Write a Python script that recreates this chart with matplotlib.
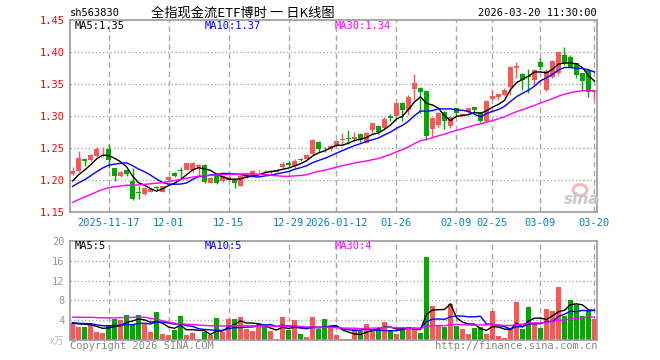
import matplotlib
matplotlib.use("Agg")
import matplotlib.pyplot as plt
from matplotlib.patches import Ellipse
import pandas as pd

# daily K data of sh563830 (first bar = 2025-11-07)
opens = [1.209, 1.214, 1.233, 1.231, 1.238, 1.243, 1.248, 1.218, 1.207, 1.215,
         1.199, 1.182, 1.178, 1.182, 1.189, 1.182, 1.200, 1.211, 1.215, 1.216,
         1.215, 1.221, 1.223, 1.196, 1.209, 1.199, 1.200, 1.200, 1.191, 1.204,
         1.207, 1.2135, 1.2145, 1.212, 1.213, 1.221, 1.226, 1.222, 1.2335, 1.233,
         1.2405, 1.260, 1.2475, 1.248, 1.253, 1.262, 1.266, 1.264, 1.272, 1.2583,
         1.278, 1.2844, 1.2807, 1.300, 1.300, 1.3208, 1.3094, 1.3422, 1.3443, 1.3391,
         1.2792, 1.2859, 1.3068, 1.2844, 1.312, 1.300, 1.3068, 1.3135, 1.3063, 1.2922,
         1.326, 1.3292, 1.3328, 1.3458, 1.3745, 1.3656, 1.3625, 1.3563, 1.3849, 1.3406,
         1.3604, 1.3667, 1.3953, 1.3927, 1.3823, 1.3667, 1.3719, 1.3375]
highs = [1.221, 1.245, 1.233, 1.241, 1.252, 1.252, 1.257, 1.218, 1.214, 1.216,
         1.219, 1.190, 1.189, 1.188, 1.191, 1.191, 1.206, 1.212, 1.221, 1.227,
         1.228, 1.225, 1.225, 1.204, 1.210, 1.207, 1.206, 1.201, 1.208, 1.211,
         1.215, 1.216, 1.216, 1.216, 1.217, 1.2276, 1.230, 1.233, 1.235, 1.240,
         1.2635, 1.261, 1.2516, 1.2547, 1.2625, 1.273, 1.278, 1.2755, 1.273, 1.2755,
         1.2896, 1.286, 1.298, 1.303, 1.3224, 1.3224, 1.3333, 1.3656, 1.345, 1.3406,
         1.299, 1.3068, 1.3078, 1.3005, 1.3125, 1.3042, 1.3125, 1.3141, 1.3068, 1.325,
         1.3406, 1.335, 1.3438, 1.378, 1.385, 1.3667, 1.3729, 1.3729, 1.3901, 1.3729,
         1.3875, 1.4005, 1.4073, 1.3953, 1.3833, 1.3677, 1.3729, 1.339]
lows = [1.208, 1.213, 1.222, 1.230, 1.236, 1.236, 1.218, 1.199, 1.205, 1.207,
        1.168, 1.171, 1.177, 1.181, 1.185, 1.181, 1.199, 1.205, 1.203, 1.215,
        1.213, 1.207, 1.196, 1.195, 1.193, 1.197, 1.199, 1.187, 1.190, 1.203,
        1.206, 1.212, 1.211, 1.210, 1.212, 1.218, 1.222, 1.219, 1.230, 1.232,
        1.239, 1.243, 1.2438, 1.2458, 1.252, 1.255, 1.257, 1.2594, 1.2594, 1.2573,
        1.273, 1.272, 1.278, 1.292, 1.298, 1.2927, 1.302, 1.3255, 1.3042, 1.2625,
        1.2667, 1.2833, 1.2792, 1.2813, 1.299, 1.2995, 1.3026, 1.3047, 1.2906, 1.2906,
        1.325, 1.3271, 1.3313, 1.3323, 1.3589, 1.3401, 1.3354, 1.3484, 1.3719, 1.3396,
        1.3594, 1.3635, 1.3797, 1.3755, 1.3594, 1.3391, 1.3297, 1.325]
closes = [1.214, 1.234, 1.229, 1.239, 1.248, 1.244, 1.232, 1.207, 1.212, 1.209,
          1.171, 1.180, 1.187, 1.186, 1.188, 1.190, 1.205, 1.206, 1.214, 1.226,
          1.227, 1.223, 1.197, 1.203, 1.196, 1.206, 1.205, 1.196, 1.206, 1.209,
          1.214, 1.2145, 1.2135, 1.2145, 1.216, 1.225, 1.224, 1.230, 1.232, 1.239,
          1.2625, 1.248, 1.2465, 1.253, 1.261, 1.2635, 1.264, 1.2677, 1.2625, 1.274,
          1.2885, 1.2755, 1.2953, 1.2963, 1.3208, 1.3094, 1.3302, 1.3521, 1.337, 1.2693,
          1.2974, 1.3052, 1.2922, 1.299, 1.3042, 1.3031, 1.312, 1.3094, 1.2922, 1.324,
          1.3315, 1.3339, 1.3406, 1.376, 1.3786, 1.3563, 1.3604, 1.3719, 1.3771, 1.3708,
          1.3859, 1.3995, 1.3813, 1.3771, 1.3641, 1.3552, 1.338, 1.3385]
# volume in 万
volumes = [3.5, 2.7, 2.7, 3.2, 1.7, 1.5, 3.0, 4.2, 4.0, 5.0,
           3.0, 5.0, 3.3, 1.7, 5.7, 1.3, 1.1, 2.0, 4.8, 1.1,
           1.5, 0.3, 1.7, 1.0, 4.4, 1.7, 4.3, 4.3, 4.6, 2.2,
           1.8, 3.4, 2.8, 1.8, 0.3, 4.6, 2.1, 4.0, 1.3, 0.7,
           4.6, 2.3, 4.2, 2.4, 1.0, 0.2, 0.2, 2.3, 1.9, 3.2,
           2.0, 2.3, 3.6, 2.0, 1.2, 2.5, 2.7, 2.5, 1.5, 16.8,
           6.8, 3.0, 2.7, 7.3, 2.8, 2.2, 1.2, 2.5, 2.7, 1.2,
           5.9, 0.8, 0.4, 2.3, 7.6, 2.2, 6.6, 3.3, 2.4, 6.2,
           5.8, 10.8, 4.9, 8.0, 7.0, 4.8, 5.8, 4.2]

# 29 sessions before the window, only needed to start the moving averages
prev_closes = [1.100, 1.110, 1.118, 1.125, 1.132, 1.150, 1.165, 1.172, 1.170, 1.172,
               1.168, 1.160, 1.158, 1.162, 1.162, 1.155, 1.158, 1.162, 1.170, 1.176,
               1.179, 1.180, 1.178, 1.185, 1.186, 1.186, 1.192, 1.198, 1.202]
prev_volumes = [3.2, 3.6, 2.9, 3.4, 3.1, 3.8, 3.0, 3.5, 2.8, 3.3, 3.6, 3.0,
                10.5, 9.2, 11.4, 8.6, 9.8, 7.5,
                3.8, 3.4, 4.1, 3.2, 3.6, 3.9, 3.3, 3.5, 3.1, 3.6, 3.4]

tick_pos = [6, 16, 26, 36, 44, 54, 64, 70, 78, 87]
tick_labels = ['2025-11-17', '12-01', '12-15', '12-29', '2026-01-12',
               '01-26', '02-09', '02-25', '03-09', '03-20']
price_ticks = [1.15, 1.20, 1.25, 1.30, 1.35, 1.40, 1.45]
vol_ticks = [4, 8, 12, 16, 20]

RED = '#fa5757'
GREEN = '#00a800'
GRID = '#aaaaaa'
MONO = 'DejaVu Sans Mono'
CJK = ['Noto Sans CJK SC', 'DejaVu Sans']

n = len(closes)
x = list(range(n))
cols = [RED if c >= o else GREEN for o, c in zip(opens, closes)]


def ma(prev, vals, w):
    s = pd.Series(prev + vals).rolling(w).mean()
    return s.iloc[-len(vals):].values


ma5, ma10, ma30 = (ma(prev_closes, closes, w) for w in (5, 10, 30))
vma5, vma10, vma30 = (ma(prev_volumes, volumes, w) for w in (5, 10, 30))

W, H = 660, 360
fig = plt.figure(figsize=(W / 100, H / 100), dpi=100)
fig.patch.set_facecolor('white')


def px(xp, yp):
    return xp / W, 1 - yp / H


ax = fig.add_axes([70 / W, 1 - 212 / H, 527 / W, 192 / H])
axv = fig.add_axes([70 / W, 1 - 340 / H, 527 / W, 99 / H])

for a in (ax, axv):
    a.set_xlim(-0.42, n - 1 + 0.42)
    for s in a.spines.values():
        s.set_color('#999999')
        s.set_linewidth(1.2)
    for t in tick_pos:
        a.axvline(t, color=GRID, lw=1, ls=(0, (4, 2.5)), zorder=0)

# main panel
ax.set_ylim(1.15, 1.45)
for p in price_ticks[1:-1]:
    ax.axhline(p, color=GRID, lw=1, ls=(0, (1, 1.6)), zorder=0)

ax.vlines(x, lows, highs, colors=cols, lw=1, zorder=2)
bottoms = [min(o, c) for o, c in zip(opens, closes)]
heights = [max(abs(c - o), 0.0007) for o, c in zip(opens, closes)]
ax.bar(x, heights, bottom=bottoms, width=0.78, color=cols, linewidth=0, zorder=3)

ax.plot(x, ma5, color='black', lw=1, zorder=4)
ax.plot(x, ma10, color='#0000ff', lw=1, zorder=4)
ax.plot(x, ma30, color='#ff00ff', lw=1, zorder=4)

ax.set_yticks(price_ticks)
ax.set_yticklabels([f'{p:.2f}' for p in price_ticks], color='red',
                   fontfamily=MONO, fontsize=7.5)
ax.set_xticks(tick_pos)
ax.set_xticklabels(tick_labels, color='#0a7ecb', fontfamily=MONO, fontsize=7.5)
ax.tick_params(axis='y', length=0, pad=4)
ax.tick_params(axis='x', length=0, pad=4)

# volume panel
axv.set_ylim(0, 20)
for v in vol_ticks[:-1]:
    axv.axhline(v, color=GRID, lw=1, ls=(0, (1, 1.6)), zorder=0)
axv.bar(x, volumes, width=0.8, color=cols, linewidth=0, zorder=2)
axv.plot(x, vma5, color='black', lw=1, zorder=3)
axv.plot(x, vma10, color='#0000ff', lw=1, zorder=3)
axv.plot(x, vma30, color='#ff00ff', lw=1, zorder=3)
axv.set_yticks(vol_ticks)
axv.set_yticklabels([str(v) for v in vol_ticks], color='#999999',
                    fontfamily=MONO, fontsize=7.5)
axv.set_xticks([])
axv.tick_params(axis='y', length=0, pad=4)

# header
fig.text(*px(70, 13), 'sh563830', ha='left', va='center', fontsize=7.5, family=MONO)
fig.text(*px(243, 13), '全指现金流ETF博时 一 日K线图', ha='center', va='center',
         fontsize=9.5, family=CJK)
fig.text(*px(597, 13), '2026-03-20 11:30:00', ha='right', va='center',
         fontsize=7.5, family=MONO)

# MA legends
fig.text(*px(75, 26), f'MA5:{ma5[-1]:.2f}', color='black', va='center', fontsize=7.5, family=MONO)
fig.text(*px(205, 26), f'MA10:{ma10[-1]:.2f}', color='#0000ff', va='center', fontsize=7.5, family=MONO)
fig.text(*px(335, 26), f'MA30:{ma30[-1]:.2f}', color='#ff00ff', va='center', fontsize=7.5, family=MONO)
fig.text(*px(75, 246), f'MA5:{int(vma5[-1])}', color='black', va='center', fontsize=7.5, family=MONO)
fig.text(*px(205, 246), f'MA10:{int(vma10[-1])}', color='#0000ff', va='center', fontsize=7.5, family=MONO)
fig.text(*px(335, 246), f'MA30:{int(vma30[-1])}', color='#ff00ff', va='center', fontsize=7.5, family=MONO)

# footer
fig.text(*px(64, 341), 'x万', ha='right', va='center', color='#bbbbbb', fontsize=7, family=CJK)
fig.text(*px(70, 346), 'Copyright 2026 SINA.COM', ha='left', va='center',
         color='#888888', fontsize=7.5, family=MONO)
fig.text(*px(597, 346), 'http://finance.sina.com.cn', ha='right', va='center',
         color='#888888', fontsize=7.5, family=MONO)

# sina watermark
fig.patches.append(Ellipse(px(580, 190), 14 / W, 11 / H, transform=fig.transFigure,
                           facecolor='none', edgecolor='#f3b8b8', lw=2))
fig.text(*px(582, 199), 'sina', ha='center', va='center', color='#c8c8c8',
         fontsize=11, fontweight='bold', fontstyle='italic')

fig.savefig('out.png', dpi=100)
